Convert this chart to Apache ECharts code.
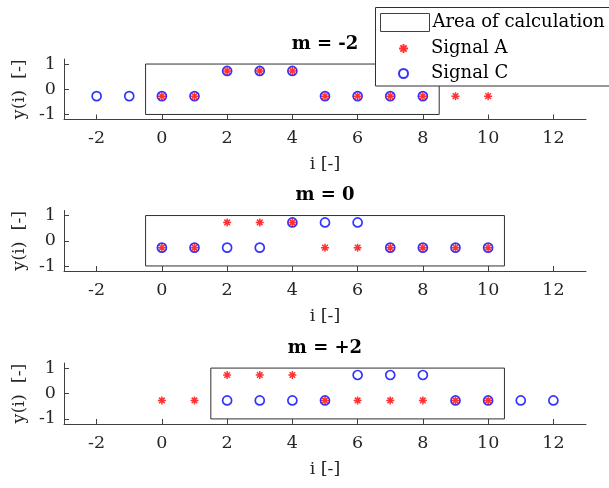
<!DOCTYPE html>
<html>
<head>
<meta charset="utf-8">
<script src="https://cdn.jsdelivr.net/npm/echarts@6/dist/echarts.min.js"></script>
<style>html,body{margin:0;padding:0;background:#fff}#c{width:609px;height:488px}</style>
</head>
<body>
<div id="c"></div>
<script>
// ---- data ----
const indexA = [0, 1, 2, 3, 4, 5, 6, 7, 8, 9, 10];
const signalA = [-0.273, -0.273, 0.727, 0.727, 0.727, -0.273, -0.273, -0.273, -0.273, -0.273, -0.273];
const signalC = [-0.273, -0.273, -0.273, -0.273, 0.727, 0.727, 0.727, -0.273, -0.273, -0.273, -0.273];
const indexC = [
  [-2, -1, 0, 1, 2, 3, 4, 5, 6, 7, 8],
  [0, 1, 2, 3, 4, 5, 6, 7, 8, 9, 10],
  [2, 3, 4, 5, 6, 7, 8, 9, 10, 11, 12]
];
const titles = ['m = -2', 'm = 0', 'm = +2'];
const areaX = [[-0.5, 8.5], [-0.5, 10.5], [1.5, 10.5]];
const areaY = [-1, 1];
const xTicks = [-2, 0, 2, 4, 6, 8, 10, 12];
const yTicks = [-1, 0, 1];
const xRange = [-3, 13];
const yRange = [-1.2, 1.2];

// ---- layout / style ----
const FONT = 'DejaVu Serif';
const FS = 17.5;
const axisCol = '#404040';
const textCol = '#262626';
const grids = [
  {left: 64, right: 23, top: 59, height: 60.5},
  {left: 64, right: 23, top: 210.5, height: 60.5},
  {left: 64, right: 23, top: 363, height: 61}
];
const titleY = [44, 195, 348];
const asterisk = 'path://M0,-5L0,5M-5,0L5,0M-3.5,-3.5L3.5,3.5M-3.5,3.5L3.5,-3.5';

const xAxes = [], yAxes = [], series = [], graphics = [];
grids.forEach((g, k) => {
  xAxes.push({
    type: 'value', gridIndex: k, min: xRange[0], max: xRange[1],
    name: 'i [-]', nameLocation: 'middle', nameGap: 36,
    nameTextStyle: {fontFamily: FONT, fontSize: FS, color: textCol},
    axisLine: {show: true, onZero: false, lineStyle: {color: axisCol, width: 1}},
    axisTick: {show: true, inside: true, length: 5, customValues: xTicks, lineStyle: {color: axisCol}},
    axisLabel: {customValues: xTicks, margin: 10, fontFamily: FONT, fontSize: FS, color: textCol},
    splitLine: {show: false}
  });
  yAxes.push({
    type: 'value', gridIndex: k, min: yRange[0], max: yRange[1],
    name: 'y(i)  [-]', nameLocation: 'middle', nameGap: 34, nameRotate: 90,
    nameTextStyle: {fontFamily: FONT, fontSize: FS, color: textCol},
    axisLine: {show: true, onZero: false, lineStyle: {color: axisCol, width: 1}},
    axisTick: {show: true, inside: true, length: 5, customValues: yTicks, lineStyle: {color: axisCol}},
    axisLabel: {customValues: yTicks, margin: 8, fontFamily: FONT, fontSize: FS, color: textCol},
    splitLine: {show: false}
  });
  const [x0, x1] = areaX[k];
  series.push({
    name: 'Area of calculation', type: 'line', xAxisIndex: k, yAxisIndex: k,
    data: [[x0, areaY[0]], [x1, areaY[0]], [x1, areaY[1]], [x0, areaY[1]], [x0, areaY[0]]],
    symbol: 'none', silent: true, animation: false,
    lineStyle: {color: '#303030', width: 1}, itemStyle: {color: '#303030'}, z: 1
  });
  series.push({
    name: 'Signal C', type: 'scatter', xAxisIndex: k, yAxisIndex: k,
    data: indexC[k].map((x, j) => [x, signalC[j]]),
    symbol: 'circle', symbolSize: 9, animation: false,
    itemStyle: {color: 'rgba(0,0,0,0)', borderColor: '#0000ff', borderWidth: 1.7}, z: 2
  });
  series.push({
    name: 'Signal A', type: 'scatter', xAxisIndex: k, yAxisIndex: k,
    data: indexA.map((x, j) => [x, signalA[j]]),
    symbol: asterisk, symbolSize: 8, animation: false,
    itemStyle: {color: 'rgba(0,0,0,0)', borderColor: '#ff0000', borderWidth: 1.5}, z: 3
  });
  graphics.push({
    type: 'text', x: 325, y: titleY[k], z: 5,
    style: {text: titles[k], fontFamily: FONT, fontSize: 18, fontWeight: 'bold', fill: '#000',
            align: 'center', verticalAlign: 'middle'}
  });
});

graphics.push({
  type: 'rect', shape: {x: 375.5, y: 7.5, width: 240, height: 78.5}, z: 10,
  style: {fill: '#fff', stroke: '#303030', lineWidth: 1}
});

const chart = echarts.init(document.getElementById('c'), null, {renderer: 'canvas'});
chart.setOption({
  animation: false,
  backgroundColor: '#fff',
  grid: grids,
  xAxis: xAxes,
  yAxis: yAxes,
  series: series,
  graphic: graphics,
  legend: [
    {
      z: 20, left: 375, top: 8, padding: [5, 5, 5, 5], selectedMode: false,
      itemWidth: 49, itemHeight: 18, itemGap: 5,
      textStyle: {fontFamily: FONT, fontSize: 18, color: '#000', padding: [0, 0, 0, -2]},
      data: [{name: 'Area of calculation', icon: 'rect',
              itemStyle: {color: '#fff', borderColor: '#404040', borderWidth: 1}}]
    },
    {
      z: 20, left: 393, top: 34, orient: 'vertical', padding: [5, 5, 5, 5], selectedMode: false,
      itemWidth: 49, itemHeight: 9, itemGap: 6,
      textStyle: {fontFamily: FONT, fontSize: 18, color: '#000', padding: [0, 0, 0, -2], lineHeight: 19},
      data: ['Signal A', 'Signal C']
    }
  ]
});
</script>
</body>
</html>
